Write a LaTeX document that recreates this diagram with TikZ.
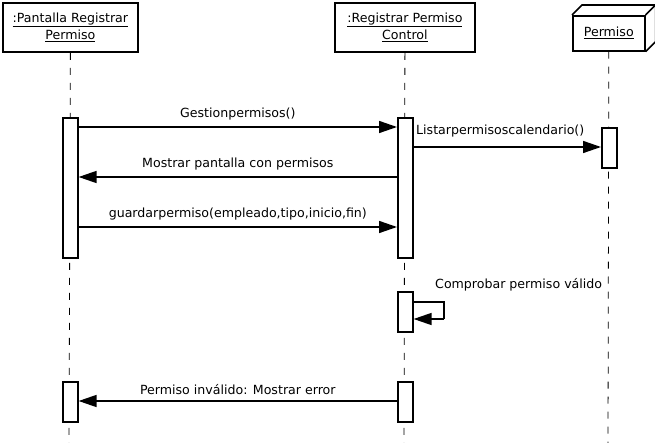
\documentclass[tikz,border=0pt]{standalone}
\usepackage{fontspec}
\setmainfont{DejaVu Sans}
\usetikzlibrary{arrows.meta,calc}
\begin{document}
\begin{tikzpicture}[x=1pt,y=-1pt,
  every node/.style={font=\fontsize{12.6}{17}\selectfont},
  headbox/.style={draw,line width=1.8pt,fill=white,minimum width=135pt,minimum height=49pt,anchor=north west,align=center,inner sep=0pt},
  actbox/.style={draw,line width=1.6pt,fill=white,minimum width=15pt,anchor=north west,inner sep=0pt},
  life/.style={dash pattern=on 7pt off 8pt,line width=0.8pt},
  msg/.style={line width=1.5pt,-{Triangle[length=18pt,width=12pt]}},
  lbl/.style={inner sep=0pt}
]
\useasboundingbox (0,0) rectangle (655,443);
% lifelines
\coordinate (l1b) at (69,443);
\coordinate (l2b) at (404,443);
\coordinate (l3b) at (608,443);
\node[headbox] (h1) at (2,2) {\underline{:Pantalla Registrar}\\\underline{Permiso}};
\node[headbox,minimum width=140pt] (h2) at (334,2) {\underline{:Registrar Permiso}\\\underline{Control}};
% 3D box Permiso
\node[draw,line width=1.6pt,minimum width=72pt,minimum height=35pt,anchor=north west,inner sep=0pt] (h3) at (572,15) {\underline{Permiso}};
\draw[line width=1.6pt,line join=miter] (h3.north west) -- ++(10,-10) -- ($(h3.north east)+(10,-10)$) -- ($(h3.south east)+(10,-10)$) -- (h3.south east);
\draw[line width=1.6pt] (h3.north east) -- ++(10,-10);
\draw[life] (h1.south) -- (l1b);
\draw[life] (h2.south) -- (l2b);
\draw[life] (h3.south) -- (l3b);
% activations
\node[actbox,minimum height=140pt] (a1) at (62,117) {};
\node[actbox,minimum height=140pt] (a2) at (397,117) {};
\node[actbox,minimum height=40pt] (a3) at (601,127) {};
\node[actbox,minimum height=40pt] (a4) at (397,291) {};
\node[actbox,minimum height=40pt] (a5) at (62,381) {};
\node[actbox,minimum height=40pt] (a6) at (397,381) {};
% message levels
\coordinate (m1) at (0,127);
\coordinate (m2) at (0,147);
\coordinate (m3) at (0,177);
\coordinate (m4) at (0,227);
\coordinate (m5) at (0,302);
\coordinate (m6) at (0,319);
\coordinate (m7) at (0,401);
\coordinate (sx) at (444,0);
% messages
\draw[msg] (a1.east |- m1) -- node[lbl,above=6pt] {Gestionpermisos()} (a2.west |- m1);
\draw[msg] (a2.east |- m2) -- (a3.west |- m2);
\node[lbl,anchor=base west] (t2) at (416,135) {Listarpermisoscalendario()};
\draw[msg] (a2.west |- m3) -- node[lbl,above=6pt] {Mostrar pantalla con permisos} (a1.east |- m3);
\draw[msg] (a1.east |- m4) -- node[lbl,above=6pt] {guardarpermiso(empleado,tipo,inicio,fin)} (a2.west |- m4);
\draw[line width=1.5pt] (a4.east |- m5) -- (sx |- m5) -- (sx |- m6);
\draw[msg] (sx |- m6) -- (a4.east |- m6);
\node[lbl,anchor=base west] (t5) at (435,289) {Comprobar permiso válido};
\draw[msg] (a6.west |- m7) -- node[lbl,above=6pt] {Permiso inválido: Mostrar error} (a5.east |- m7);
\end{tikzpicture}
\end{document}
